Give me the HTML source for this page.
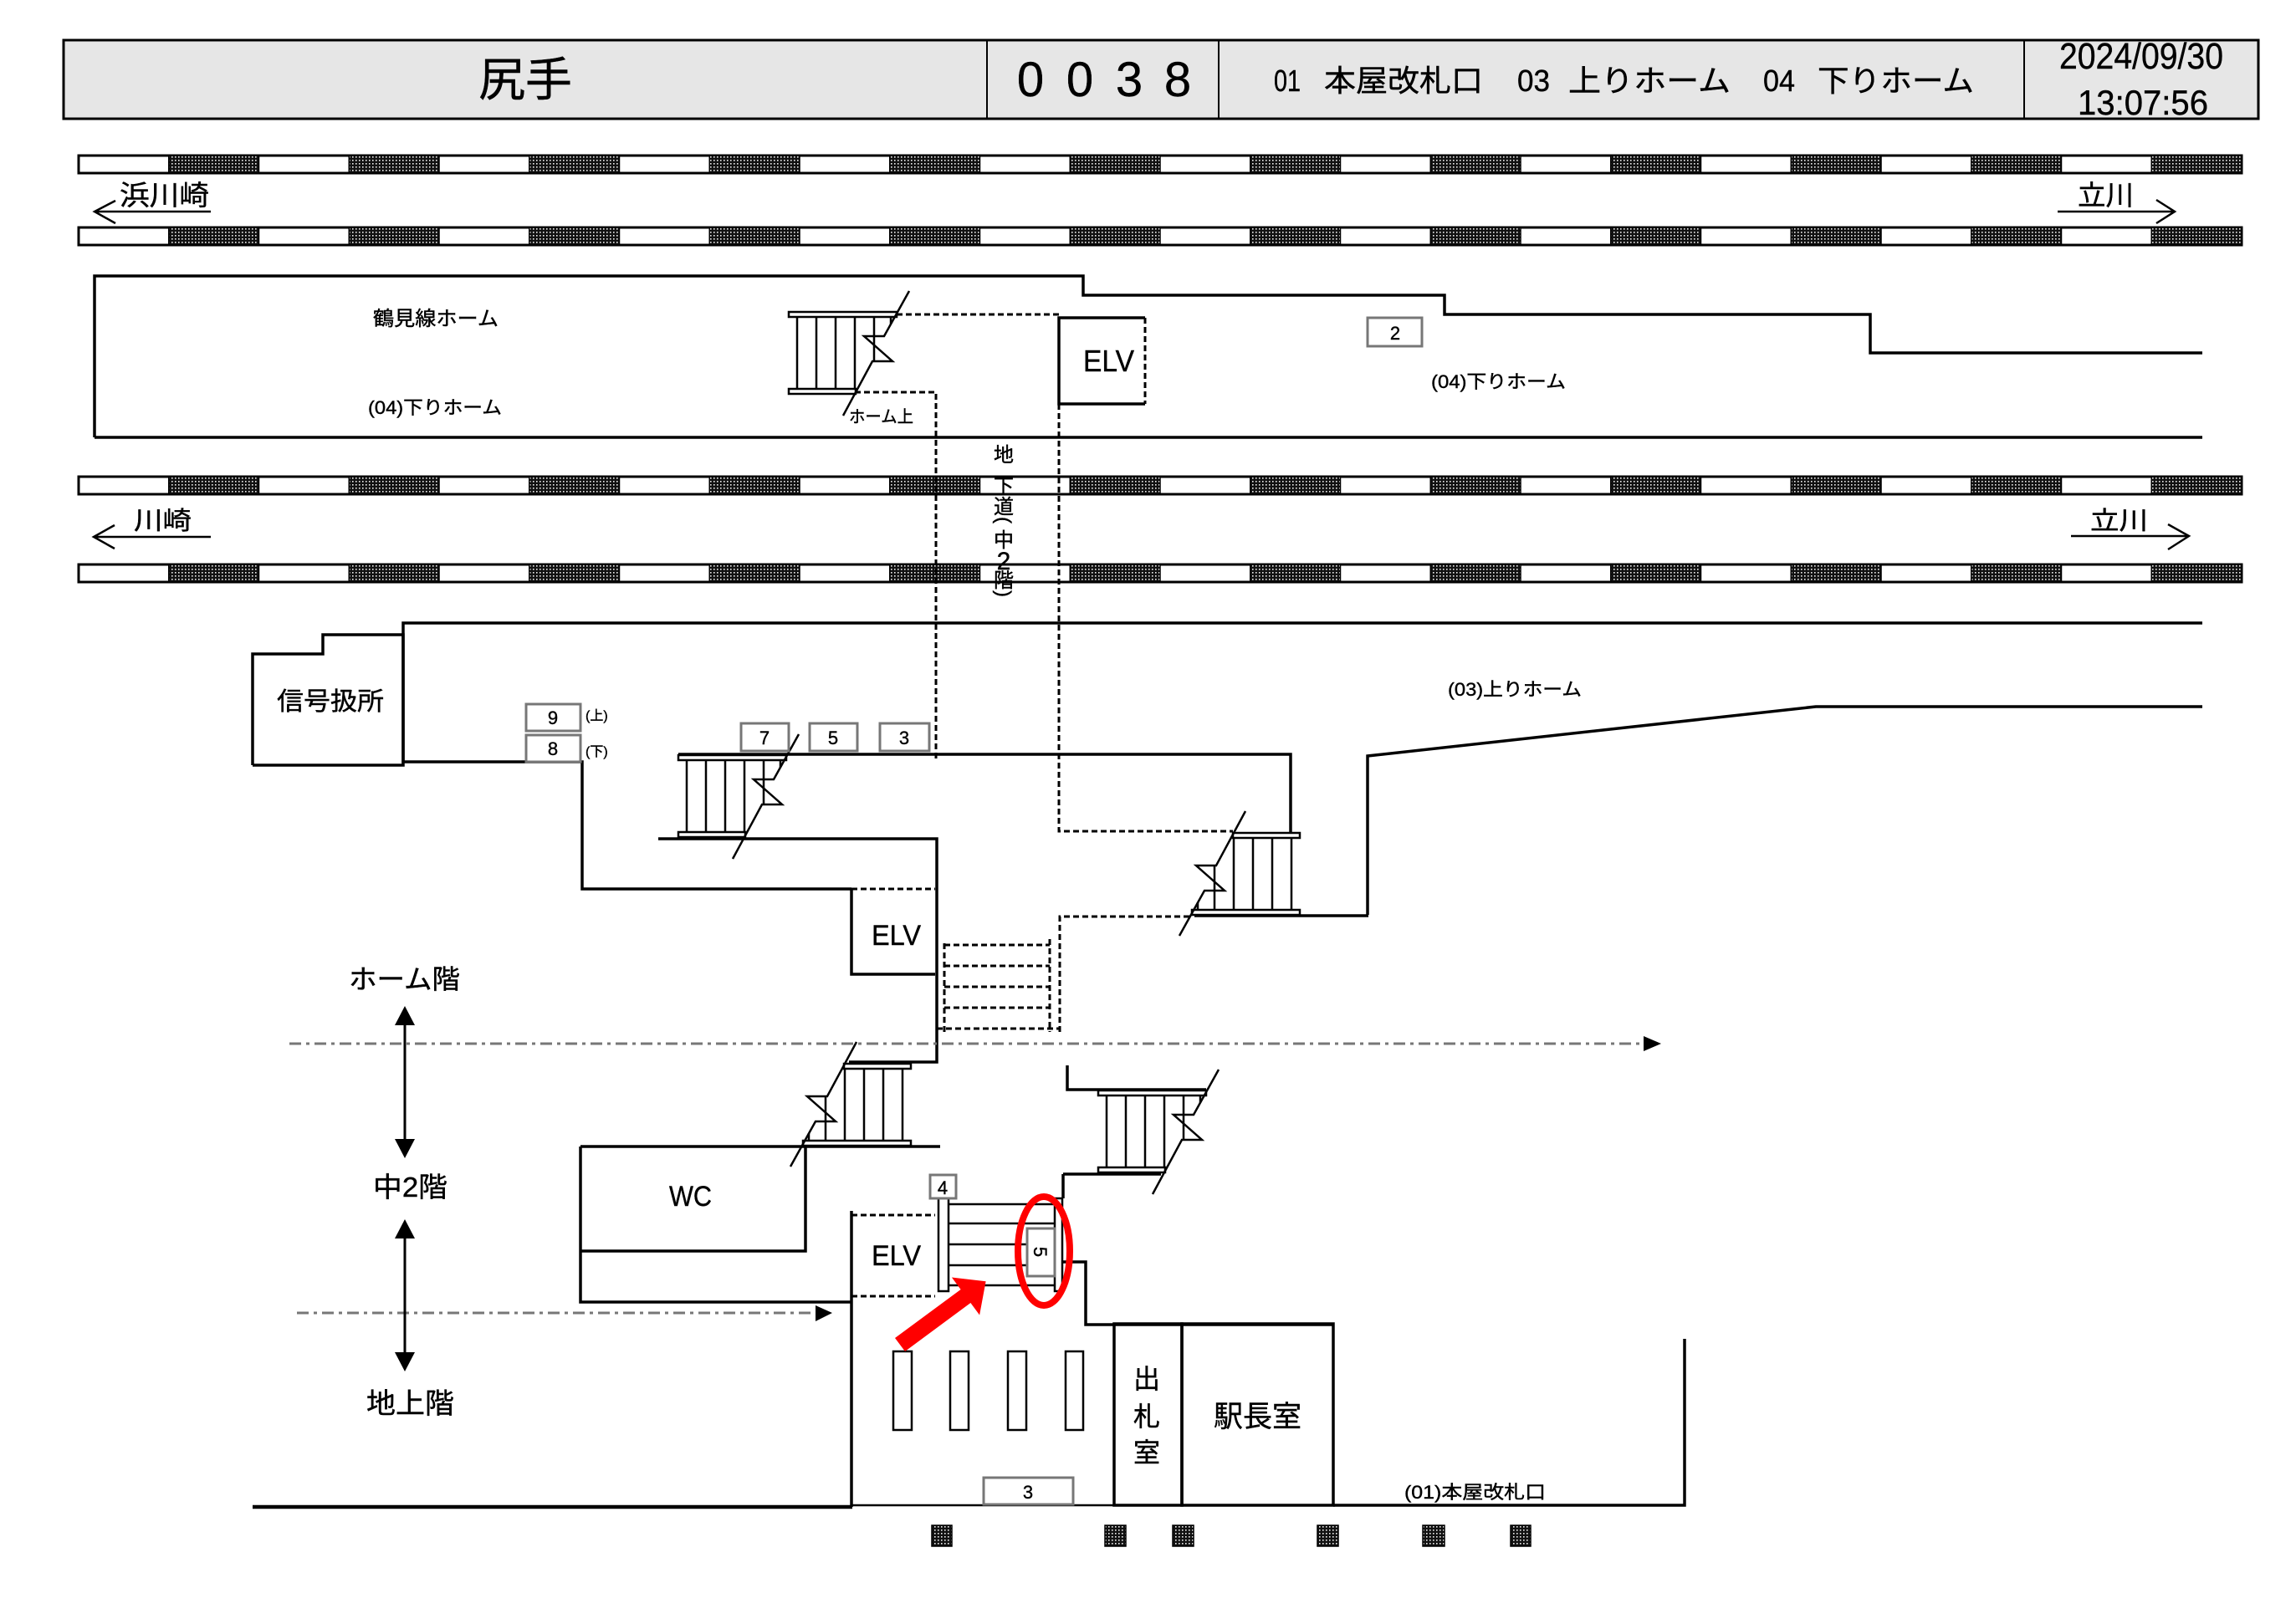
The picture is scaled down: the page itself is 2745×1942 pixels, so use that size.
<!DOCTYPE html>
<html><head><meta charset="utf-8"><style>
html,body{margin:0;padding:0;background:#fff;}
svg{display:block;}
text{font-family:"Liberation Sans","Noto Sans CJK JP",sans-serif;fill:#000;stroke:#000;stroke-width:0.4px;}
</style></head><body>
<svg width="2745" height="1942" viewBox="0 0 2745 1942" xmlns="http://www.w3.org/2000/svg">
<defs>
<pattern id="hp" width="4" height="4" patternUnits="userSpaceOnUse"><rect width="4" height="4" fill="#111"/><rect x="1" y="1" width="1.6" height="1.6" fill="#eee"/></pattern>
<g id="trk">
<rect x="94" y="0" width="2586" height="21" fill="#fff" stroke="#000" stroke-width="3"/>
<g fill="url(#hp)" stroke="#000" stroke-width="1.5">
<rect x="201.75" y="0" width="107.75" height="21"/>
<rect x="417.25" y="0" width="107.75" height="21"/>
<rect x="632.75" y="0" width="107.75" height="21"/>
<rect x="848.25" y="0" width="107.75" height="21"/>
<rect x="1063.75" y="0" width="107.75" height="21"/>
<rect x="1279.25" y="0" width="107.75" height="21"/>
<rect x="1494.75" y="0" width="107.75" height="21"/>
<rect x="1710.25" y="0" width="107.75" height="21"/>
<rect x="1925.75" y="0" width="107.75" height="21"/>
<rect x="2141.25" y="0" width="107.75" height="21"/>
<rect x="2356.75" y="0" width="107.75" height="21"/>
<rect x="2572.25" y="0" width="107.75" height="21"/>
</g>
</g>
<g id="stair" fill="none" stroke="#000" stroke-width="2.5">
<rect x="943" y="373" width="129" height="6" fill="#fff"/>
<rect x="943" y="465" width="80" height="6" fill="#fff"/>
<path d="M953,379V465M976,379V465M999,379V465M1022,379V465M1045,379V432M1065,379V388"/>
<polyline points="1087,348 1057,402 1033,402 1067,432 1043,432 1008,497"/>
</g>
</defs>

<!-- Header -->
<rect x="76" y="48" width="2624" height="94" fill="#e6e6e6" stroke="#000" stroke-width="3"/>
<path d="M1180,48V142M1457,48V142M2420,48V142" stroke="#000" stroke-width="2"/>
<text x="628" y="115" font-size="56" text-anchor="middle">尻手</text>
<text x="1232" y="115" font-size="58" text-anchor="middle">0</text>
<text x="1291" y="115" font-size="58" text-anchor="middle">0</text>
<text x="1350" y="115" font-size="58" text-anchor="middle">3</text>
<text x="1408" y="115" font-size="58" text-anchor="middle">8</text>
<text x="1523" y="109" font-size="36" textLength="32" lengthAdjust="spacingAndGlyphs">01</text>
<text x="1583" y="109" font-size="36" textLength="190" lengthAdjust="spacingAndGlyphs">本屋改札口</text>
<text x="1814" y="109" font-size="36" textLength="39" lengthAdjust="spacingAndGlyphs">03</text>
<text x="1875" y="109" font-size="36" textLength="194" lengthAdjust="spacingAndGlyphs">上りホーム</text>
<text x="2108" y="109" font-size="36" textLength="38" lengthAdjust="spacingAndGlyphs">04</text>
<text x="2173" y="109" font-size="36" textLength="187" lengthAdjust="spacingAndGlyphs">下りホーム</text>
<text x="2462" y="82" font-size="44" textLength="196" lengthAdjust="spacingAndGlyphs">2024/09/30</text>
<text x="2484" y="137" font-size="42" textLength="156" lengthAdjust="spacingAndGlyphs">13:07:56</text>

<!-- Tracks -->
<use href="#trk" transform="translate(0,186)"/>
<use href="#trk" transform="translate(0,272)"/>
<use href="#trk" transform="translate(0,570)"/>
<use href="#trk" transform="translate(0,675)"/>

<!-- direction arrows -->
<g fill="none" stroke="#000" stroke-width="2.5">
<path d="M113,253H252M138,240L113,253L138,267"/>
<path d="M2460,253H2600M2578,239L2600,253L2578,267"/>
<path d="M112,642H252M137,628L112,642L137,656"/>
<path d="M2476,641H2617M2592,627L2617,641L2592,657"/>
</g>
<text x="143" y="245" font-size="33" textLength="107" lengthAdjust="spacingAndGlyphs">浜川崎</text>
<text x="2484" y="245" font-size="33" textLength="67" lengthAdjust="spacingAndGlyphs">立川</text>
<text x="160" y="633" font-size="30" textLength="69" lengthAdjust="spacingAndGlyphs">川崎</text>
<text x="2499" y="633" font-size="30" textLength="69" lengthAdjust="spacingAndGlyphs">立川</text>

<!-- main outlines -->
<g fill="none" stroke="#000" stroke-width="3.5">
<path d="M113,523V330H1295V353H1727V376H2236V422H2633"/>
<path d="M113,523H2633"/>
<path d="M2633,745H482V911H696V1063H1018"/>
<path d="M302,915V782H386V759H482V915H302"/>
<path d="M811,902H1543V999"/>
<path d="M1635,1094V904L2171,845H2633"/>
<path d="M1428,1095H1636"/>
<path d="M787,1003H1120V1270H1015"/>
<path d="M1018,1063V1165H1118"/>
<path d="M1369,380H1266V483H1369"/>
<path d="M694,1371H1124"/>
<path d="M694,1371V1557H1018"/>
<path d="M963,1371V1496H694"/>
<path d="M1018,1448V1802"/>
<path d="M1271,1404H1388M1271,1404V1433"/>
<path d="M1276,1274V1303H1442"/>
<path d="M1270,1509H1298V1584H1594"/>
<rect x="1332" y="1583" width="81" height="217"/>
<rect x="1413" y="1583" width="181" height="217"/>
<path d="M1594,1800H2014V1601"/>
</g>
<path d="M302,1802H1019" stroke="#000" stroke-width="4.5"/>
<path d="M1019,1800H1332" stroke="#000" stroke-width="2.5"/>

<!-- stairs -->
<use href="#stair"/>
<use href="#stair" transform="translate(-132,530)"/>
<use href="#stair" transform="translate(370,931)"/>
<use href="#stair" transform="rotate(180 1248.5 733.5)"/>
<use href="#stair" transform="rotate(180 1016 871.5)"/>

<!-- dashed -->
<g fill="none" stroke="#000" stroke-width="3" stroke-dasharray="7 4">
<path d="M1072,376H1266"/>
<path d="M1022,469H1119V908"/>
<path d="M1369,380V483"/>
<path d="M1266,483V994H1474"/>
<path d="M1422,1096H1267V1234"/>
<path d="M1018,1063H1118"/>
<path d="M1129,1128V1234M1255,1123V1234"/>
<path d="M1129,1130H1255M1129,1155H1255M1129,1180H1255M1129,1205H1255M1120,1230H1267"/>
<path d="M1018,1453H1118M1018,1550H1118"/>
</g>

<!-- dash-dot level lines -->
<g fill="none" stroke="#777" stroke-width="3" stroke-dasharray="14 6 4 6">
<path d="M346,1248H1965"/>
<path d="M355,1570H975"/>
</g>
<polygon points="1965,1239 1986,1248 1965,1257" fill="#000"/>
<polygon points="975,1561 995,1570 975,1580" fill="#000"/>

<!-- vertical double arrows -->
<path d="M484,1215V1375M484,1470V1630" stroke="#000" stroke-width="3"/>
<polygon points="472,1226 484,1203 496,1226" fill="#000"/>
<polygon points="472,1362 484,1385 496,1362" fill="#000"/>
<polygon points="472,1481 484,1458 496,1481" fill="#000"/>
<polygon points="472,1617 484,1640 496,1617" fill="#000"/>

<!-- stair 5 (horizontal treads) -->
<g fill="#fff" stroke="#000" stroke-width="2.5">
<rect x="1122" y="1433" width="12" height="111"/>
<rect x="1261" y="1433" width="9" height="111"/>
<path d="M1134,1440H1261M1134,1463H1261M1134,1488H1261M1134,1513H1261M1134,1537H1261" fill="none"/>
</g>

<!-- gates -->
<g fill="#fff" stroke="#000" stroke-width="2.5">
<rect x="1068" y="1616" width="22" height="94"/>
<rect x="1136" y="1616" width="22" height="94"/>
<rect x="1205" y="1616" width="22" height="94"/>
<rect x="1274" y="1616" width="21" height="94"/>
</g>

<!-- numbered boxes -->
<g fill="#fff" stroke="#777" stroke-width="3">
<rect x="1635" y="380" width="65" height="34"/>
<rect x="629" y="842" width="65" height="32"/>
<rect x="629" y="879" width="65" height="32"/>
<rect x="886" y="865" width="57" height="33"/>
<rect x="968" y="865" width="57" height="33"/>
<rect x="1052" y="865" width="59" height="33"/>
<rect x="1112" y="1405" width="31" height="28"/>
<rect x="1228" y="1469" width="33" height="57"/>
<rect x="1176" y="1767" width="107" height="32"/>
</g>
<g font-size="22" text-anchor="middle">
<text x="1668" y="406">2</text>
<text x="661" y="866">9</text>
<text x="661" y="903">8</text>
<text x="914" y="890">7</text>
<text x="996" y="890">5</text>
<text x="1081" y="890">3</text>
<text x="1127" y="1428">4</text>
<text x="1229" y="1792">3</text>
<text transform="translate(1244,1497) rotate(90)" dy="8">5</text>
</g>
<text x="700" y="861" font-size="16">(上)</text>
<text x="700" y="904" font-size="16">(下)</text>

<!-- hatched squares -->
<g fill="url(#hp)" stroke="#000" stroke-width="1.5">
<rect x="1114" y="1824" width="24" height="25"/>
<rect x="1321" y="1824" width="25" height="25"/>
<rect x="1402" y="1824" width="25" height="25"/>
<rect x="1575" y="1824" width="25" height="25"/>
<rect x="1701" y="1824" width="26" height="25"/>
<rect x="1806" y="1824" width="24" height="25"/>
</g>

<!-- labels -->
<text x="446" y="389" font-size="24" textLength="150" lengthAdjust="spacingAndGlyphs">鶴見線ホーム</text>
<text x="440" y="495" font-size="22" textLength="160" lengthAdjust="spacingAndGlyphs">(04)下りホーム</text>
<text x="1015" y="505" font-size="20" textLength="77" lengthAdjust="spacingAndGlyphs">ホーム上</text>
<text x="1295" y="444" font-size="36" textLength="61" lengthAdjust="spacingAndGlyphs">ELV</text>
<text x="1711" y="464" font-size="22" textLength="161" lengthAdjust="spacingAndGlyphs">(04)下りホーム</text>
<text x="1731" y="832" font-size="22" textLength="160" lengthAdjust="spacingAndGlyphs">(03)上りホーム</text>
<text x="331" y="849" font-size="30" textLength="128" lengthAdjust="spacingAndGlyphs">信号扱所</text>
<text x="1042" y="1130" font-size="34" textLength="59" lengthAdjust="spacingAndGlyphs">ELV</text>
<text x="1042" y="1513" font-size="34" textLength="59" lengthAdjust="spacingAndGlyphs">ELV</text>
<text x="417" y="1182" font-size="32" textLength="133" lengthAdjust="spacingAndGlyphs">ホーム階</text>
<text x="446" y="1431" font-size="33" textLength="89" lengthAdjust="spacingAndGlyphs">中2階</text>
<text x="438" y="1690" font-size="34" textLength="105" lengthAdjust="spacingAndGlyphs">地上階</text>
<text x="800" y="1442" font-size="34" textLength="51" lengthAdjust="spacingAndGlyphs">WC</text>
<g font-size="32" text-anchor="middle">
<text x="1371" y="1660">出</text>
<text x="1371" y="1705">札</text>
<text x="1371" y="1748">室</text>
</g>
<text x="1451" y="1706" font-size="35" textLength="105" lengthAdjust="spacingAndGlyphs">駅長室</text>
<text x="1679" y="1792" font-size="22" textLength="169" lengthAdjust="spacingAndGlyphs">(01)本屋改札口</text>

<!-- vertical underpass label -->
<g font-size="24" text-anchor="middle">
<text x="1200" y="552">地</text>
<text x="1200" y="590">下</text>
<text x="1200" y="614">道</text>
<text transform="translate(1200,622) rotate(90)" dy="8">(</text>
<text x="1200" y="654">中</text>
<text x="1200" y="681" font-size="30">2</text>
<text x="1200" y="702">階</text>
<text transform="translate(1200,710) rotate(90)" dy="8">)</text>
</g>

<!-- red highlight -->
<ellipse cx="1248" cy="1496" rx="31" ry="65" fill="none" stroke="#f00" stroke-width="8"/>
<polygon points="1070,1600 1148.6,1542 1137.9,1527.5 1178.6,1532.2 1171.1,1572.5 1160.4,1558 1082,1616" fill="#f00"/>
</svg>
</body></html>
